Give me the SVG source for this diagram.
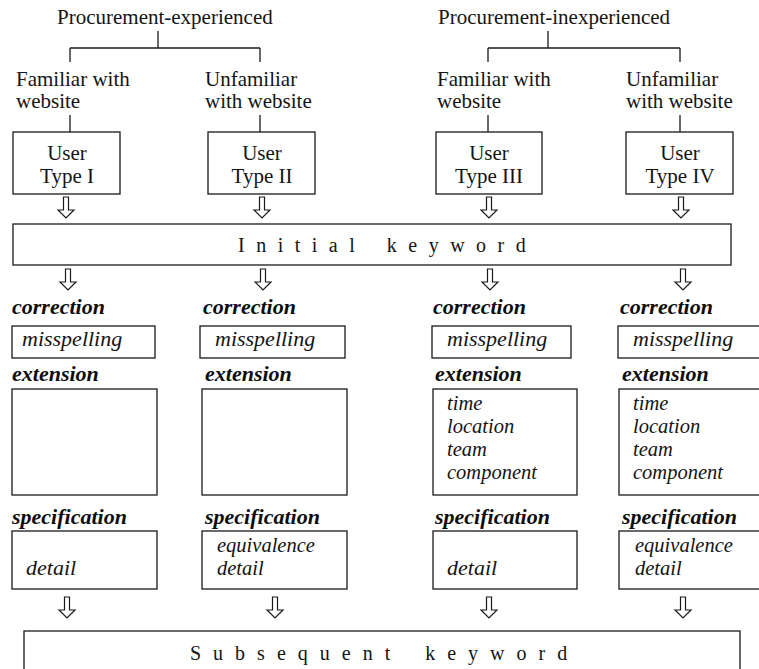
<svg xmlns="http://www.w3.org/2000/svg" width="759" height="669" viewBox="0 0 759 669">
  <style>
    .bg { fill: #ffffff; }
    .box { fill: #ffffff; stroke: #1a1a1a; stroke-width: 1.3; }
    .line { fill: none; stroke: #1a1a1a; stroke-width: 1.3; }
    .arrow { fill: #ffffff; stroke: #1a1a1a; stroke-width: 1.2; stroke-linejoin: miter; }
    .t { font-family: "Liberation Serif", "Times New Roman", serif; font-size: 21px; fill: #141414; }
    .mid { text-anchor: middle; }
    .it { font-family: "Liberation Serif", "Times New Roman", serif; font-size: 22px; font-style: italic; fill: #141414; }
    .li { font-family: "Liberation Serif", "Times New Roman", serif; font-size: 20.5px; font-style: italic; fill: #141414; }
    .lab { font-family: "Liberation Serif", "Times New Roman", serif; font-size: 22px; font-style: italic; font-weight: bold; fill: #0d0d0d; }
    .spaced { font-family: "Liberation Serif", "Times New Roman", serif; font-size: 20px; fill: #141414; letter-spacing: 11.5px; word-spacing: 4px; }
    .spaced2 { font-family: "Liberation Serif", "Times New Roman", serif; font-size: 20px; fill: #141414; letter-spacing: 12px; word-spacing: 6px; }
  </style>
  <defs>
    <!-- hollow block arrow pointing down, origin at the top centre of the shaft -->
    <path id="down" class="arrow" d="M -2.5 0 V 13 H -8 L 0 21 L 8 13 H 2.5 V 0 Z"/>
  </defs>

  <rect class="bg" x="0" y="0" width="759" height="669"/>

  <!-- tree lines and flow arrows -->
  <g id="connectors">
    <path class="line" d="M158 31 V48 M70 48 H260 M70 48 V62 M260 48 V62"/>
    <path class="line" d="M548 31 V48 M488 48 H680 M488 48 V62 M680 48 V62"/>
    <path class="line" d="M70 115 V132 M260 115 V132 M488 115 V132 M680 115 V132"/>
    <use href="#down" x="66" y="197"/>
    <use href="#down" x="262" y="197"/>
    <use href="#down" x="489" y="197"/>
    <use href="#down" x="681" y="197"/>
    <use href="#down" x="68" y="269"/>
    <use href="#down" x="263" y="269"/>
    <use href="#down" x="490" y="269"/>
    <use href="#down" x="683" y="269"/>
    <use href="#down" x="67" y="597"/>
    <use href="#down" x="275" y="597"/>
    <use href="#down" x="489" y="597"/>
    <use href="#down" x="683" y="597"/>
  </g>

  <!-- group headings -->
  <g id="experienced">
    <text class="t" x="57" y="24">Procurement-experienced</text>
  </g>
  <g id="inexperienced">
    <text class="t" x="438" y="24">Procurement-inexperienced</text>
  </g>

  <g id="familiar-1">
    <text class="t" x="16" y="86">Familiar with</text>
    <text class="t" x="16" y="108">website</text>
  </g>
  <g id="unfamiliar-1">
    <text class="t" x="205" y="86">Unfamiliar</text>
    <text class="t" x="205" y="108">with website</text>
  </g>
  <g id="familiar-2">
    <text class="t" x="437" y="86">Familiar with</text>
    <text class="t" x="437" y="108">website</text>
  </g>
  <g id="unfamiliar-2">
    <text class="t" x="626" y="86">Unfamiliar</text>
    <text class="t" x="626" y="108">with website</text>
  </g>

  <!-- user types -->
  <g id="type-1">
    <rect class="box" x="13" y="132" width="107" height="62"/>
    <text class="t mid" x="67" y="160">User</text>
    <text class="t mid" x="67" y="183">Type I</text>
  </g>
  <g id="type-2">
    <rect class="box" x="208" y="132" width="107" height="62"/>
    <text class="t mid" x="262" y="160">User</text>
    <text class="t mid" x="262" y="183">Type II</text>
  </g>
  <g id="type-3">
    <rect class="box" x="436" y="132" width="106" height="62"/>
    <text class="t mid" x="489" y="160">User</text>
    <text class="t mid" x="489" y="183">Type III</text>
  </g>
  <g id="type-4">
    <rect class="box" x="626" y="132" width="107" height="62"/>
    <text class="t mid" x="680" y="160">User</text>
    <text class="t mid" x="680" y="183">Type IV</text>
  </g>

  <!-- initial keyword -->
  <g id="initial">
    <rect class="box" x="13" y="224" width="718" height="41"/>
    <text class="spaced" x="238" y="252">Initial keyword</text>
  </g>

  <!-- column 1 -->
  <g id="col-1">
    <text class="lab" x="12" y="314">correction</text>
    <rect class="box" x="12" y="326" width="143" height="32"/>
    <text class="it" x="22" y="346">misspelling</text>
    <text class="lab" x="12" y="381">extension</text>
    <rect class="box" x="12" y="389" width="145" height="106"/>
    <text class="lab" x="12" y="524">specification</text>
    <rect class="box" x="12" y="531" width="145" height="58"/>
    <text class="it" x="26" y="575">detail</text>
  </g>

  <!-- column 2 -->
  <g id="col-2">
    <text class="lab" x="203" y="314">correction</text>
    <rect class="box" x="200" y="326" width="145" height="32"/>
    <text class="it" x="215" y="346">misspelling</text>
    <text class="lab" x="205" y="381">extension</text>
    <rect class="box" x="202" y="389" width="145" height="106"/>
    <text class="lab" x="205" y="524">specification</text>
    <rect class="box" x="202" y="531" width="145" height="58"/>
    <text class="li" x="217" y="552">equivalence</text>
    <text class="li" x="217" y="575">detail</text>
  </g>

  <!-- column 3 -->
  <g id="col-3">
    <text class="lab" x="433" y="314">correction</text>
    <rect class="box" x="432" y="326" width="139" height="32"/>
    <text class="it" x="447" y="346">misspelling</text>
    <text class="lab" x="435" y="381">extension</text>
    <rect class="box" x="433" y="389" width="144" height="106"/>
    <text class="li" x="447" y="410">time</text>
    <text class="li" x="447" y="433">location</text>
    <text class="li" x="447" y="456">team</text>
    <text class="li" x="447" y="479">component</text>
    <text class="lab" x="435" y="524">specification</text>
    <rect class="box" x="433" y="531" width="144" height="58"/>
    <text class="it" x="447" y="575">detail</text>
  </g>

  <!-- column 4, boxes run off the right edge -->
  <g id="col-4">
    <text class="lab" x="620" y="314">correction</text>
    <rect class="box" x="618" y="326" width="160" height="32"/>
    <text class="it" x="633" y="346">misspelling</text>
    <text class="lab" x="622" y="381">extension</text>
    <rect class="box" x="619" y="389" width="160" height="106"/>
    <text class="li" x="633" y="410">time</text>
    <text class="li" x="633" y="433">location</text>
    <text class="li" x="633" y="456">team</text>
    <text class="li" x="633" y="479">component</text>
    <text class="lab" x="622" y="524">specification</text>
    <rect class="box" x="619" y="531" width="160" height="58"/>
    <text class="li" x="635" y="552">equivalence</text>
    <text class="li" x="635" y="575">detail</text>
  </g>

  <!-- subsequent keyword, box runs off the bottom edge -->
  <g id="subsequent">
    <rect class="box" x="24" y="631" width="716" height="60"/>
    <text class="spaced2" x="190" y="660">Subsequent keyword</text>
  </g>
</svg>
